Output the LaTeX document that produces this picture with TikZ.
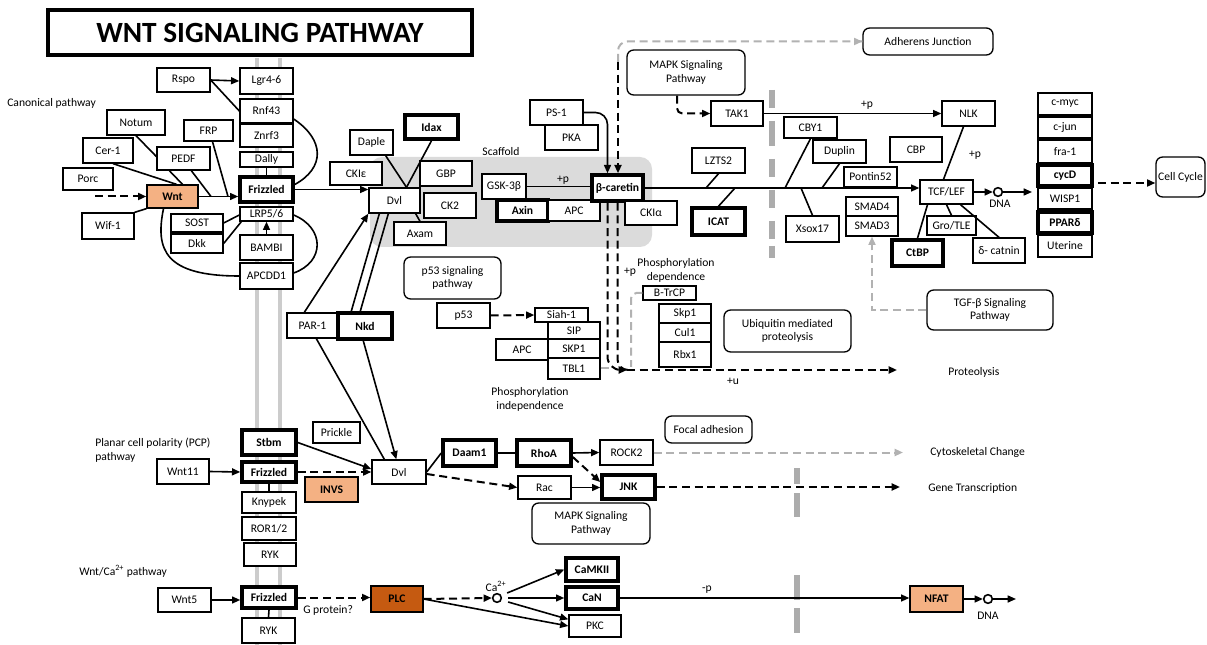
\documentclass[tikz,border=0pt]{standalone}
\usepackage{fontspec}
\setmainfont{Carlito}
\usetikzlibrary{arrows.meta,calc}
\definecolor{orangeL}{HTML}{F4B183}
\definecolor{orangeD}{HTML}{C55A11}
\newcommand{\bx}[7][]{\node[box,#1,minimum width={(#5-#3)*0.75pt},minimum height={(#6-#4)*0.75pt}] (#2) at ({(#3+#5)/2},{(#4+#6)/2}) {#7};}
\tikzset{
  >={Triangle[length=6.2pt,width=5.2pt]},
  box/.style={draw, fill=white, line width=1pt, inner sep=0pt, align=center, font=\fontsize{8.7}{10}\selectfont},
  thk/.style={line width=2.6pt, font=\fontsize{8.7}{10}\selectfont\bfseries},
  rbox/.style={rounded corners=5pt},
  org/.style={fill=orangeL, font=\fontsize{8.7}{10}\selectfont\bfseries},
  dorg/.style={fill=orangeD, font=\fontsize{8.7}{10}\selectfont\bfseries},
  ttl/.style={line width=3pt, font=\fontsize{22}{25}\selectfont\bfseries},
  con/.style={line width=1.2pt},
  arr/.style={con, ->},
  dline/.style={line width=1.5pt, dash pattern=on 6pt off 3.5pt},
  darr/.style={dline, ->},
  gdash/.style={draw=gray!60, line width=1.5pt, dash pattern=on 6pt off 3.5pt},
  garr/.style={gdash, ->},
  gseg/.style={draw=gray!65, line width=3.8pt},
  memb/.style={draw=gray!40, line width=2.4pt},
  lbl/.style={inner sep=0pt, align=left, font=\fontsize{8.7}{10.4}\selectfont},
  circ/.style={circle, draw, fill=white, line width=1.2pt, minimum size=6.5pt, inner sep=0pt},
}
\begin{document}
\begin{tikzpicture}[x=0.75pt,y=-0.75pt]
\fill[white] (0,0) rectangle (1207,645);
\useasboundingbox (0,0) rectangle (1207,645);
% membrane and scaffold
\draw[memb] (257,58) -- (257,645);
\draw[memb] (280,58) -- (280,645);
\fill[gray!28, rounded corners=9pt] (370,157) rectangle (652,247);
\node[lbl] (scaf) at (501,152) {Scaffold};
% gray bars
\foreach \a/\b in {90/108,121/146,159/177,190/208,221/239,246/258}
  \draw[gseg] (772,\a) -- (772,\b);
\foreach \a/\b in {468/484,493/517,575/600,608/633}
  \draw[gseg] (797,\a) -- (797,\b);
% title
\bx[ttl]{title}{48}{10}{472}{55}{WNT SIGNALING PATHWAY}
% canonical
\node[lbl, anchor=west] (canon) at (7,103) {Canonical pathway};
\bx{rspo}{157}{68}{210}{92}{Rspo}
\bx{lgr}{240}{68}{293}{94}{Lgr4-6}
\bx{rnf}{240}{99}{293}{123}{Rnf43}
\bx{znrf}{240}{124}{293}{147}{Znrf3}
\bx{dally}{240}{152}{293}{167}{Dally}
\bx[thk]{frz}{240}{177}{293}{202}{Frizzled}
\bx{lrp}{240}{207}{293}{221}{LRP5/6}
\bx{bambi}{240}{235}{293}{260}{BAMBI}
\bx{apcdd}{240}{263}{293}{289}{APCDD1}
\bx{notum}{107}{110}{165}{135}{Notum}
\bx{frp}{184}{120}{233}{141}{FRP}
\bx{cer}{83}{138}{133}{163}{Cer-1}
\bx{pedf}{157}{147}{210}{170}{PEDF}
\bx{porc}{63}{168}{113}{190}{Porc}
\bx[org]{wnt}{147}{185}{198}{208}{Wnt}
\bx{wif}{82}{213}{134}{239}{Wif-1}
\bx{sost}{171}{214}{223}{232}{SOST}
\bx{dkk}{171}{234}{223}{253}{Dkk}
% dvl region
\bx{daple}{350}{130}{393}{155}{Daple}
\bx[thk]{idax}{405}{115}{458}{139}{Idax}
\bx{ckie}{330}{162}{382}{185}{CKIε}
\bx{gbp}{420}{161}{472}{186}{GBP}
\bx{dvla}{369}{188}{420}{213}{Dvl}
\bx{ck2}{424}{193}{476}{218}{CK2}
\bx{axam}{394}{222}{446}{245}{Axam}
\bx{gsk}{482}{174}{526}{199}{GSK-3β}
\bx[thk]{axin}{497}{200}{548}{221}{Axin}
\bx{apca}{548}{200}{600}{221}{APC}
\bx[thk]{bcat}{592}{175}{643}{201}{β-caretin}
\bx{ps1}{530}{100}{583}{125}{PS-1}
\bx{pka}{545}{125}{598}{150}{PKA}
\bx{ckia}{625}{201}{677}{225}{CKIα}
% right region
\bx[rbox]{adh}{863}{28}{993}{55}{Adherens Junction}
\bx[rbox]{mapka}{627}{50}{745}{95}{MAPK Signaling\\Pathway}
\bx{tak}{711}{101}{763}{126}{TAK1}
\bx{nlk}{942}{101}{995}{126}{NLK}
\bx{cby}{784}{117}{837}{138}{CBY1}
\bx{duplin}{813}{140}{866}{163}{Duplin}
\bx{lzts}{692}{148}{745}{173}{LZTS2}
\bx{pontin}{844}{167}{897}{187}{Pontin52}
\bx{cbp}{890}{137}{942}{162}{CBP}
\bx{tcf}{920}{180}{973}{204}{TCF/LEF}
\bx[thk]{icat}{692}{208}{745}{235}{ICAT}
\bx{xsox}{786}{216}{839}{242}{Xsox17}
\bx{smad4}{846}{197}{898}{216}{SMAD4}
\bx{smad3}{846}{216}{898}{236}{SMAD3}
\bx[thk]{ctbp}{892}{240}{943}{266}{CtBP}
\bx{gro}{927}{216}{976}{235}{Gro/TLE}
\bx{dcat}{973}{238}{1025}{263}{δ- catnin}
\bx{cmyc}{1038}{93}{1092}{115}{c-myc}
\bx{cjun}{1038}{117}{1092}{138}{c-jun}
\bx{fra}{1038}{140}{1092}{163}{fra-1}
\bx[thk]{cycd}{1038}{165}{1092}{186}{cycD}
\bx{wisp}{1038}{188}{1092}{209}{WISP1}
\bx[thk]{ppar}{1038}{212}{1092}{233}{PPARδ}
\bx{uter}{1038}{235}{1092}{257}{Uterine}
\bx[rbox]{ccyc}{1156}{157}{1205}{197}{Cell Cycle}
\bx[rbox]{tgf}{927}{290}{1053}{330}{TGF-β Signaling\\Pathway}
% middle
\bx[rbox]{p53p}{404}{257}{501}{299}{p53 signaling\\pathway}
\bx{p53}{437}{303}{490}{328}{p53}
\bx{siah}{535}{308}{588}{322}{Siah-1}
\bx{sip}{548}{322}{600}{339}{SIP}
\bx{skpa}{548}{339}{600}{358}{SKP1}
\bx{tbl}{548}{358}{600}{379}{TBL1}
\bx{apcb}{496}{339}{548}{360}{APC}
\bx{btrcp}{643}{286}{696}{300}{B-TrCP}
\bx{skpb}{659}{304}{711}{323}{Skp1}
\bx{cul}{659}{323}{711}{342}{Cul1}
\bx{rbx}{659}{342}{711}{367}{Rbx1}
\bx[rbox]{ubq}{724}{310}{851}{352}{Ubiquitin mediated\\proteolysis}
\bx{par}{287}{313}{338}{338}{PAR-1}
\bx[thk]{nkd}{338}{313}{392}{339}{Nkd}
\node[lbl] (pdep) at (676,270) [align=center] {Phosphorylation\\dependence};
\node[lbl] (pp2) at (630,272) {+p};
\node[lbl] (pind) at (530,399) [align=center] {Phosphorylation\\independence};
\node[lbl] (plus_u) at (733,381) {+u};
\node[lbl, anchor=west] (prot_t) at (948,372) {Proteolysis};
% PCP
\node[lbl, anchor=west] (pcp) at (95,450) {Planar cell polarity (PCP)\\pathway};
\bx[thk]{stbm}{242}{430}{296}{455}{Stbm}
\bx{wnt11}{157}{459}{209}{484}{Wnt11}
\bx[thk]{frzb}{242}{462}{296}{482}{Frizzled}
\bx{knyp}{242}{492}{296}{513}{Knypek}
\bx{ror}{242}{517}{296}{540}{ROR1/2}
\bx{ryka}{244}{543}{296}{566}{RYK}
\bx{prickle}{313}{422}{360}{443}{Prickle}
\bx[org]{invs}{305}{477}{358}{502}{INVS}
\bx{dvlb}{372}{460}{426}{484}{Dvl}
\bx[thk]{daam}{443}{440}{496}{466}{Daam1}
\bx[thk]{rhoa}{517}{440}{571}{466}{RhoA}
\bx{rock}{600}{440}{653}{465}{ROCK2}
\bx{rac}{518}{476}{571}{499}{Rac}
\bx[thk]{jnk}{602}{475}{655}{499}{JNK}
\bx[rbox]{mapkb}{532}{503}{650}{544}{MAPK Signaling\\Pathway}
\bx[rbox]{focal}{665}{416}{752}{443}{Focal adhesion}
\node[lbl, anchor=west] (cyto_t) at (930,452) {Cytoskeletal Change};
\node[lbl, anchor=west] (gene_t) at (928,488) {Gene Transcription};
% Ca
\node[lbl, anchor=west] (wca) at (79,571) {Wnt/Ca\textsuperscript{2+} pathway};
\bx{wnt5}{158}{588}{211}{612}{Wnt5}
\bx[thk]{frzc}{242}{587}{296}{608}{Frizzled}
\bx{rykb}{242}{618}{295}{643}{RYK}
\bx[dorg]{plc}{371}{586}{423}{612}{PLC}
\bx[thk]{camk}{566}{558}{618}{581}{CaMKII}
\bx[thk]{can}{566}{587}{618}{609}{CaN}
\bx{pkc}{569}{615}{621}{637}{PKC}
\bx[org]{nfat}{910}{586}{963}{612}{NFAT}
\node[lbl, anchor=west] (gprot) at (303,610) {G protein?};
\node[circ] (ca) at (497,598) {};
\node[lbl] (ca_t) at (496,586) {Ca\textsuperscript{2+}};
\node[circ] (dnaa) at (998,192) {};
\node[lbl] (dna_a) at (1000,204) {DNA};
\node[circ] (dnab) at (988,599) {};
\node[lbl] (dna_b) at (988,616) {DNA};
\node[lbl] (mp) at (707,590) {-p};
\node[lbl] (p1) at (563,180) {+p};
\node[lbl] (p2) at (867,105) {+p};
\node[lbl] (p3) at (975,155) {+p};
% ---------- connectors: canonical
\draw[arr] (rspo.east) -- (lgr.west);
\draw[con] (rspo.east) -- (rnf.west);
\draw[con] (notum.south) -- ($(pedf.west)+(0,-2)$);
\draw[con] ($(cer.south)+(5,0)$) -- ($(wnt.north)+(4,0)$);
\draw[con] ($(pedf.south west)+(13,0)$) -- ($(wnt.north)+(10,0)$);
\coordinate (wf1) at (211,196.5);
\coordinate (wf2) at (228,196.5);
\draw[con] ($(pedf.south west)+(35,0)$) -- (wf1);
\draw[con] ($(frp.south)+(4,0)$) -- (wf2);
\coordinate (porcs) at (95,196.5);
\draw[darr] (porcs) -- (wnt.west);
\draw[arr] (wnt.east) -- (wnt.east -| frz.west);
\draw[con] (wif.north east) -- (wnt.south west);
\draw[con] ($(wnt.south)+(-9,0)$) .. controls (155,250) and (165,276) .. (apcdd.west);
\draw[con] (sost.east) -- ($(lrp.west)+(0,1)$);
\draw[con] (dkk.east) -- ($(lrp.south west)+(2,0)$);
\draw[arr] (bambi.north) -- (lrp.south);
\draw[con] (dally.south) -- (frz.north);
\draw[con] ($(rnf.east)+(0,8)$) .. controls (325,140) and (325,168) .. ($(frz.east)+(0,-5)$);
\draw[con] ($(lrp.east)+(0,1)$) .. controls (325,228) and (325,262) .. ($(apcdd.east)+(0,-3)$);
\draw[arr] (frz.east) -- (frz.east -| dvla.west);
% dvl
\draw[con] ($(daple.south east)+(-8,0)$) -- ($(dvla.north)+(12,0)$);
\draw[con] (idax.south) -- ($(dvla.north)+(12,0)$);
\draw[con] ($(dvla.south east)+(-5,0)$) -- ($(axam.north)+(0,0)$);
\draw[con] (gsk.east) -- (gsk.east -| bcat.west);
\draw[arr, rounded corners=9pt] (ps1.east) -| ($(bcat.north)+(-10,0)$);
\coordinate (adhc) at (618,62);
\draw[gdash, rounded corners=7pt] (adhc) |- (adh.west);
\draw[garr] ($(adh.west)+(-2,0)$) -- (adh.west);
\draw[darr] (adhc) -- (adhc |- bcat.north);
\draw[darr, rounded corners=4pt] ($(mapka.south)+(-9,0)$) |- (tak.west);
\draw[arr] (tak.east) -- (nlk.west);
\draw[con] ($(nlk.south)+(-5,0)$) -- ($(tcf.north)+(-3,0)$);
\draw[arr] (bcat.east) -- (bcat.east -| tcf.west);
\coordinate (m1) at (706,188);
\coordinate (m2) at (735,188);
\coordinate (m3) at (785,188);
\coordinate (m4) at (801,188);
\coordinate (m5) at (822,188);
\draw[con] (lzts.south) -- (m1);
\draw[con] (m2) -- (icat.north);
\draw[con] (cby.south) -- (m3);
\draw[con] (m4) -- (xsox.north);
\draw[con] (duplin.south) -- (m5);
\draw[con] ($(tcf.south)+(-19,0)$) -- (ctbp.north);
\draw[con] (tcf.south) -- (gro.north);
\draw[con] ($(tcf.south)+(14,0)$) -- (dcat.north);
\draw[arr] (tcf.east) -- (dnaa.west);
\coordinate (genein) at (1032,192);
\draw[arr] (dnaa.east) -- (genein);
\coordinate (cc0) at (1098,183);
\draw[darr] (cc0) -- (cc0 -| ccyc.west);
\draw[garr] (tgf.west) -| (smad3.south);
% degradation
\coordinate (ub) at (627,370);
\coordinate (prot) at (897,370);
\draw[darr, rounded corners=10pt] ($(bcat.south)+(-10,0)$) |- (ub);
\draw[dline, rounded corners=8pt] (bcat.south) |- (ub);
\draw[darr] (ub) -- (prot);
\draw[gdash, rounded corners=4pt] (btrcp.west) -| (631,367);
\draw[gdash] (tbl.east) -- ($(tbl.east)+(8,0)$);
\draw[darr] (p53.east) -- (siah.west);
% PAR-1 / Nkd
\draw[arr] ($(par.north west)+(18,0)$) -- (dvla.south west);
\draw[con] ($(nkd.north west)+(15,0)$) -- ($(dvla.south west)+(11,0)$);
\draw[con] ($(nkd.north west)+(24,0)$) -- ($(dvla.south west)+(20,0)$);
\draw[con] ($(par.south west)+(30,0)$) -- ($(dvlb.north west)+(13,0)$);
\draw[arr] ($(nkd.south west)+(27,0)$) -- ($(dvlb.north west)+(25,0)$);
% PCP
\draw[arr] (wnt11.east) -- (frzb.west);
\draw[con] (frzb.south) -- (knyp.north);
\draw[arr] (stbm.east) -- ($(dvlb.west)+(0,-3)$);
\draw[darr] (frzb.east) -- (frzb.east -| dvlb.west);
\draw[con] (dvlb.east) -- (daam.west);
\draw[con] (daam.east) -- (rhoa.west);
\draw[arr] (rhoa.east) -- (rock.west);
\draw[darr] ($(rhoa.east)+(0,4)$) -- ($(jnk.west)+(0,-5)$);
\draw[darr] ($(dvlb.east)+(0,2)$) -- (rac.west);
\draw[arr] (rac.east) -- (rac.east -| jnk.west);
\coordinate (cyto) at (903,452.5);
\draw[garr] (rock.east) -- (cyto);
\coordinate (gene) at (900,487);
\draw[darr] (jnk.east) -- (gene);
% Ca
\draw[arr] (wnt5.east) -- (wnt5.east -| frzc.west);
\draw[con] (frzc.south) -- (rykb.north);
\draw[darr] (frzc.east) -- (frzc.east -| plc.west);
\draw[darr] (plc.east) -- (ca.west);
\draw[arr] (plc.east) -- (pkc.west);
\draw[arr] ($(ca.east)+(5,-5)$) -- (camk.west);
\draw[arr] ($(ca.east)+(6,0)$) -- (can.west);
\draw[arr] ($(ca.east)+(6,4)$) -- ($(pkc.north west)+(0,5)$);
\draw[arr] (can.east) -- (can.east -| nfat.west);
\draw[arr] (nfat.east) -- (dnab.west);
\coordinate (dnaend) at (1016,599);
\draw[arr] (dnab.east) -- (dnaend);
\end{tikzpicture}
\end{document}
